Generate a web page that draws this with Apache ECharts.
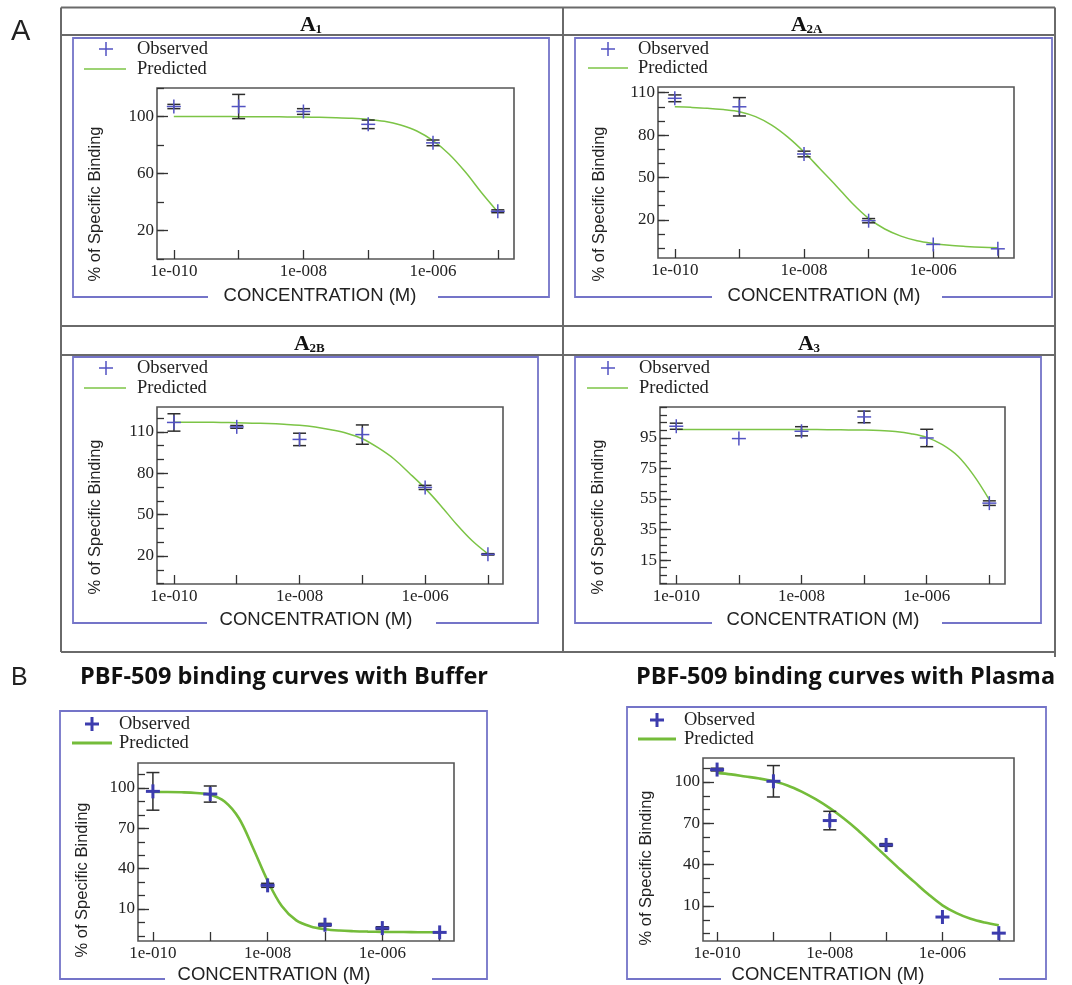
<!DOCTYPE html>
<html><head><meta charset="utf-8">
<script src="https://cdn.jsdelivr.net/npm/echarts@6/dist/echarts.min.js"></script>
<style>html,body{margin:0;padding:0;background:#fff}#c{width:1072px;height:985px}</style>
</head><body><div id="c"></div>
<script>
// ---------- DATA ----------
// concentrations as log10(M)
const logConc = [-10, -9, -8, -7, -6, -5];
// sample positions of the predicted (fitted) curves, log10(M)
const curveX = [-10, -9.75, -9.5, -9.25, -9, -8.75, -8.5, -8.25, -8, -7.75, -7.5, -7.25, -7, -6.75, -6.5, -6.25, -6, -5.75, -5.5, -5.25, -5];

const a1Obs  = [107, 107, 103.5, 94.5, 81.5, 33.5];
const a1Err  = [1.5, 8.5, 2, 3, 2, 1];
const a1Pred = [100, 100, 100, 100, 99.9, 99.9, 99.8, 99.7, 99.6, 99.4, 99.2, 98.8, 98, 96.6, 94, 89.8, 83, 73.5, 61, 46.5, 33];

const a2aObs  = [106, 100, 66.6, 19.4, 2.6, -0.5];
const a2aErr  = [2.4, 6.5, 2, 1.5, 0, 0];
const a2aPred = [100, 99.6, 99, 98, 96.5, 93, 87, 78.5, 68, 56, 44, 31.5, 21, 13.5, 8.5, 5.2, 3.3, 2, 1.2, 0.6, 0.3];

const a2bObs  = [116.8, 113.6, 104.5, 108, 69.7, 21.2];
const a2bErr  = [6.3, 1, 4.5, 7, 1.5, 0.5];
const a2bPred = [117, 117, 116.9, 116.8, 116.6, 116.3, 116, 115.5, 114.8, 113.5, 111.5, 109, 105, 98.5, 90.5, 80, 69, 56.5, 43, 31, 21.5];

const a3Obs  = [102.7, 94.6, 99.4, 108.8, 95, 52.3];
const a3Err  = [2, 0, 3, 3.8, 5.7, 1.5];
const a3Pred = [100.5, 100.5, 100.5, 100.5, 100.5, 100.5, 100.5, 100.5, 100.5, 100.5, 100.4, 100.3, 100.2, 99.9, 99.2, 97.8, 95.4, 90.6, 83, 70.5, 54.5];

const bufObs  = [97.5, 95.5, 27.6, -1.7, -4.2, -7.4];
const bufErr  = [14, 6, 1.5, 1, 1, 0];
const bufPred = [97, 97, 96.8, 96.3, 95, 90, 77.5, 55, 31, 12, 1.5, -3, -5, -6, -6.5, -6.8, -7, -7.1, -7.2, -7.3, -7.4];

const plaObs  = [109, 100.5, 72, 54.3, 2, -9.7];
const plaErr  = [1, 11.4, 6.7, 1, 0, 0];
const plaPred = [106.6, 105.5, 104, 102.5, 100.5, 97.5, 93, 87.5, 81, 73.5, 65, 55.5, 46, 36.5, 27.5, 18.5, 10.5, 4.8, 0.7, -2, -4];

// tick values / tick labels
const xTickVals  = [-10, -9, -8, -7, -6, -5];
const xLabelVals = [-10, -8, -6];
const a1YTicks   = [0, 20, 40, 60, 80, 100, 120];
const a1YLabels  = [20, 60, 100];
const a2aYTicks  = [0, 10, 20, 30, 40, 50, 60, 70, 80, 90, 100, 110];
const a2aYLabels = [20, 50, 80, 110];
const a2bYTicks  = [0, 10, 20, 30, 40, 50, 60, 70, 80, 90, 100, 110, 120];
const a2bYLabels = [20, 50, 80, 110];
const a3YTicks   = [0, 5, 10, 15, 20, 25, 30, 35, 40, 45, 50, 55, 60, 65, 70, 75, 80, 85, 90, 95, 100, 105, 110, 115];
const a3YLabels  = [15, 35, 55, 75, 95];
const bYTicks    = [-10, 0, 10, 20, 30, 40, 50, 60, 70, 80, 90, 100, 110];
const bYLabels   = [10, 40, 70, 100];

const xAxisTitle = 'CONCENTRATION (M)';
const yAxisTitle = '% of Specific Binding';
const legendObs = 'Observed';
const legendPred = 'Predicted';
const titleBuffer = 'PBF-509 binding curves with Buffer';
const titlePlasma = 'PBF-509 binding curves with Plasma';

// ---------- LAYOUT ----------
const panels = [
  { grid:{left:157, top:88, width:357, height:171}, xr:[-10.26,-4.75], yr:[0,120], yt:a1YTicks, yl:a1YLabels,
    obs:a1Obs, err:a1Err, pred:a1Pred, box:[73,38,549,297,208,438], xt:[320,296], yt2:[95,204],
    lg:[106,49,84,126,69,137], heavy:false },
  { grid:{left:658, top:87, width:356, height:171}, xr:[-10.26,-4.75], yr:[-7,114], yt:a2aYTicks, yl:a2aYLabels,
    obs:a2aObs, err:a2aErr, pred:a2aPred, box:[575,38,1052,297,712,942], xt:[824,296], yt2:[599,204],
    lg:[608,49,588,628,68,638], heavy:false },
  { grid:{left:157, top:407, width:346, height:177}, xr:[-10.27,-4.76], yr:[-0.3,128], yt:a2bYTicks, yl:a2bYLabels,
    obs:a2bObs, err:a2bErr, pred:a2bPred, box:[73,357,538,623,207,436], xt:[316,620], yt2:[95,517],
    lg:[106,368,84,126,388,137], heavy:false },
  { grid:{left:660, top:407, width:345, height:177}, xr:[-10.26,-4.75], yr:[-0.7,115.3], yt:a3YTicks, yl:a3YLabels,
    obs:a3Obs, err:a3Err, pred:a3Pred, box:[575,357,1041,623,712,942], xt:[823,620], yt2:[598,517],
    lg:[608,368,587,628,388,639], heavy:false },
  { grid:{left:138, top:763, width:316, height:178}, xr:[-10.26,-4.75], yr:[-13.8,118.6], yt:bYTicks, yl:bYLabels,
    obs:bufObs, err:bufErr, pred:bufPred, box:[60,711,487,979,165,432], xt:[274,975], yt2:[82,880],
    lg:[92,724,72,112,743,119], heavy:true },
  { grid:{left:703, top:758, width:311, height:183}, xr:[-10.25,-4.73], yr:[-15.4,117.4], yt:bYTicks, yl:bYLabels,
    obs:plaObs, err:plaErr, pred:plaPred, box:[627,707,1046,979,721,999], xt:[828,975], yt2:[646,868],
    lg:[657,720,638,676,739,684], heavy:true }
];

const BLUE_BOX = '#7474c8';
const TABLE = '#6a6a6a';
const DARK = '#333';
const SERIF = '"Liberation Serif", "Times New Roman", serif';
const SANS = '"Liberation Sans", Arial, sans-serif';
const fmtX = v => '1e-' + String(Math.round(-v)).padStart(3, '0');

const grids = [], xAxes = [], yAxes = [], series = [], graphic = [];

panels.forEach((p, i) => {
  const green = p.heavy ? '#74bc3a' : '#7cc446';
  const blue = p.heavy ? '#3c3cae' : '#5252c2';
  const crossW = p.heavy ? 3 : 1.5;
  const curveW = p.heavy ? 2.6 : 1.5;
  grids.push(Object.assign({ show:true, borderColor:'#555', borderWidth:1.6, backgroundColor:'transparent', containLabel:false, outerBoundsMode:'none' }, p.grid));
  xAxes.push({
    gridIndex:i, type:'value', min:p.xr[0], max:p.xr[1],
    axisLine:{show:false, onZero:false}, splitLine:{show:false},
    axisTick:{show:true, inside:true, length:9, customValues:xTickVals, lineStyle:{color:DARK, width:1.3}},
    axisLabel:{customValues:xLabelVals, formatter:fmtX, fontFamily:SERIF, fontSize:17, color:'#222', margin:4}
  });
  yAxes.push({
    gridIndex:i, type:'value', min:p.yr[0], max:p.yr[1], position:'left',
    axisLine:{show:false, onZero:false}, splitLine:{show:false},
    axisTick:{show:true, inside:true, length:7, customValues:p.yt, lineStyle:{color:DARK, width:1.3}},
    axisLabel:{customValues:p.yl, fontFamily:SERIF, fontSize:17, color:'#222', margin:3}
  });
  yAxes.push({
    gridIndex:i, type:'value', min:p.yr[0], max:p.yr[1], position:'left',
    axisLine:{show:false, onZero:false}, splitLine:{show:false},
    axisTick:{show:true, inside:true, length:11, customValues:p.yl, lineStyle:{color:DARK, width:1.3}},
    axisLabel:{show:false}
  });
  // predicted curve
  series.push({
    type:'line', xAxisIndex:i, yAxisIndex:2*i, smooth:0.35, showSymbol:false, silent:true,
    data: curveX.map((x, k) => [x, p.pred[k]]),
    lineStyle:{color:green, width:curveW}, z:2
  });
  // error bars
  series.push({
    type:'custom', xAxisIndex:i, yAxisIndex:2*i, silent:true, z:3,
    data: logConc.map((x, k) => [x, p.obs[k] - p.err[k], p.obs[k] + p.err[k]]).filter((d, k) => p.err[k] > 0),
    renderItem: (params, api) => {
      const a = api.coord([api.value(0), api.value(1)]);
      const b = api.coord([api.value(0), api.value(2)]);
      const cw = 6.5;
      const st = {stroke:'#2e2e2e', lineWidth:1.5};
      return {type:'group', children:[
        {type:'line', shape:{x1:a[0], y1:a[1], x2:b[0], y2:b[1]}, style:st},
        {type:'line', shape:{x1:a[0]-cw, y1:a[1], x2:a[0]+cw, y2:a[1]}, style:st},
        {type:'line', shape:{x1:b[0]-cw, y1:b[1], x2:b[0]+cw, y2:b[1]}, style:st}
      ]};
    }
  });
  // observed crosses
  series.push({
    type:'custom', xAxisIndex:i, yAxisIndex:2*i, silent:true, z:4,
    data: logConc.map((x, k) => [x, p.obs[k]]),
    renderItem: (params, api) => {
      const c = api.coord([api.value(0), api.value(1)]);
      const h = 7;
      const st = {stroke:blue, lineWidth:crossW};
      return {type:'group', children:[
        {type:'line', shape:{x1:c[0]-h, y1:c[1], x2:c[0]+h, y2:c[1]}, style:st},
        {type:'line', shape:{x1:c[0], y1:c[1]-h, x2:c[0], y2:c[1]+h}, style:st}
      ]};
    }
  });

  // blue frame with gap for the x title
  const [l, t, r, b, g1, g2] = p.box;
  graphic.push({type:'polyline', silent:true, shape:{points:[[g1,b],[l,b],[l,t],[r,t],[r,b],[g2,b]]},
    style:{stroke:BLUE_BOX, lineWidth:1.8, fill:null}});
  graphic.push({type:'text', silent:true, x:p.xt[0], y:p.xt[1],
    style:{text:xAxisTitle, font:'18.5px ' + SANS, fill:'#222', textAlign:'center', textVerticalAlign:'middle', align:'center', verticalAlign:'middle'}});
  graphic.push({type:'text', silent:true, x:p.yt2[0], y:p.yt2[1], rotation:Math.PI/2,
    style:{text:yAxisTitle, font:'16.5px ' + SANS, fill:'#222', textAlign:'center', textVerticalAlign:'middle', align:'center', verticalAlign:'middle'}});
  // legend
  const [cx, cy, lx1, lx2, ly, tx] = p.lg;
  graphic.push({type:'line', silent:true, shape:{x1:cx-7, y1:cy, x2:cx+7, y2:cy}, style:{stroke:blue, lineWidth:crossW}});
  graphic.push({type:'line', silent:true, shape:{x1:cx, y1:cy-7, x2:cx, y2:cy+7}, style:{stroke:blue, lineWidth:crossW}});
  graphic.push({type:'line', silent:true, shape:{x1:lx1, y1:ly, x2:lx2, y2:ly}, style:{stroke:green, lineWidth:p.heavy ? 3 : 1.6}});
  graphic.push({type:'text', silent:true, x:tx, y:cy,
    style:{text:legendObs, font:'18.5px ' + SERIF, fill:'#222', textAlign:'left', textVerticalAlign:'middle', align:'left', verticalAlign:'middle'}});
  graphic.push({type:'text', silent:true, x:tx, y:ly,
    style:{text:legendPred, font:'18.5px ' + SERIF, fill:'#222', textAlign:'left', textVerticalAlign:'middle', align:'left', verticalAlign:'middle'}});
});

// table lines of part A
const tableLines = [
  [61, 7.5, 1055, 7.5], [61, 35, 1055, 35], [61, 326, 1055, 326], [61, 355, 1055, 355], [61, 652, 1055, 652],
  [61, 7.5, 61, 652], [563, 7.5, 563, 652], [1055, 7.5, 1055, 657]
];
tableLines.forEach(L => graphic.push({type:'line', silent:true, shape:{x1:L[0], y1:L[1], x2:L[2], y2:L[3]},
  style:{stroke:TABLE, lineWidth:2}}));

// panel headers (A with subscript)
const headers = [
  {x:300, y:25, main:'A', sub:'1'},
  {x:791, y:25, main:'A', sub:'2A'},
  {x:294, y:344, main:'A', sub:'2B'},
  {x:798, y:344, main:'A', sub:'3'}
];
headers.forEach(h => {
  graphic.push({type:'text', silent:true, x:h.x, y:h.y,
    style:{text:h.main, font:'bold 22px ' + SERIF, fill:'#111', textAlign:'left', textVerticalAlign:'middle', align:'left', verticalAlign:'middle'}});
  graphic.push({type:'text', silent:true, x:h.x + 15.5, y:h.y + 5,
    style:{text:h.sub, font:'bold 13px ' + SERIF, fill:'#111', textAlign:'left', textVerticalAlign:'middle', align:'left', verticalAlign:'middle'}});
});

// section letters and B titles
graphic.push({type:'text', silent:true, x:11, y:32,
  style:{text:'A', font:'29px ' + SANS, fill:'#222', textAlign:'left', textVerticalAlign:'middle', align:'left', verticalAlign:'middle'}});
graphic.push({type:'text', silent:true, x:11, y:678,
  style:{text:'B', font:'25px ' + SANS, fill:'#222', textAlign:'left', textVerticalAlign:'middle', align:'left', verticalAlign:'middle'}});
graphic.push({type:'text', silent:true, x:80, y:677,
  style:{text:titleBuffer, font:'bold 23.5px "Open Sans", "Noto Sans", sans-serif', fill:'#111', textAlign:'left', textVerticalAlign:'middle', align:'left', verticalAlign:'middle'}});
graphic.push({type:'text', silent:true, x:636, y:677,
  style:{text:titlePlasma, font:'bold 23.5px "Open Sans", "Noto Sans", sans-serif', fill:'#111', textAlign:'left', textVerticalAlign:'middle', align:'left', verticalAlign:'middle'}});

const chart = echarts.init(document.getElementById('c'), null, {renderer:'canvas', width:1072, height:985});
chart.setOption({
  animation:false,
  backgroundColor:'#fff',
  grid:grids, xAxis:xAxes, yAxis:yAxes, series:series, graphic:graphic
});
</script></body></html>
